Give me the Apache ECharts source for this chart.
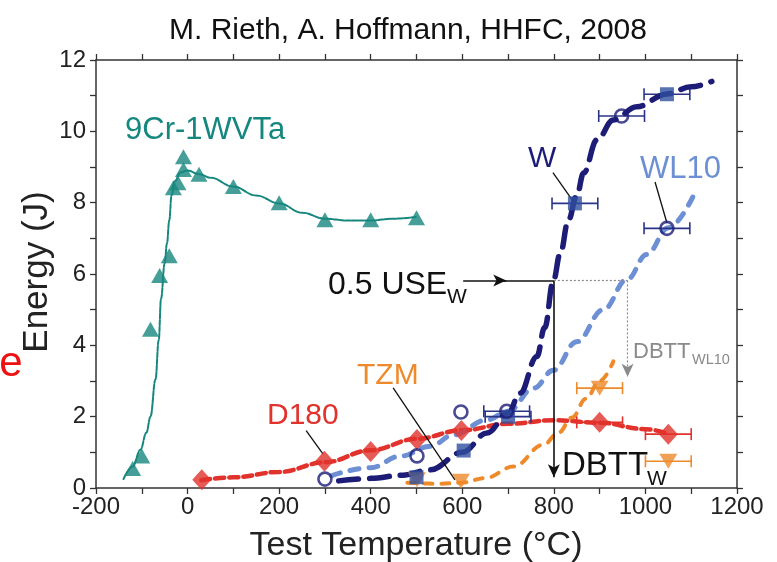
<!DOCTYPE html>
<html>
<head>
<meta charset="utf-8">
<script src="https://cdn.jsdelivr.net/npm/echarts@6/dist/echarts.min.js"></script>
<style>html,body{margin:0;padding:0;background:#fff;}#c{width:777px;height:562px;}</style>
</head>
<body>
<div id="c"></div>
<script>
// ---- data (Temperature °C, Energy J) ----
const xTicks = [-200, 0, 200, 400, 600, 800, 1000, 1200];
const yTicks = [0, 2, 4, 6, 8, 10, 12];

const cr9Points = [[-120,0.55],[-100,0.9],[-81,4.45],[-61,5.96],[-40,6.51],[-31,8.42],[-21,8.56],[-9,8.93],[-9,9.29],[25,8.8],[100,8.45],[200,8.0],[300,7.52],[400,7.52],[500,7.58]];
const cr9Curve = [[-140,0.25],[-120,0.6],[-103,1.07],[-90,1.55],[-81,2.0],[-70,3.05],[-63,4.15],[-58,5.3],[-50,6.3],[-45,6.86],[-40,7.5],[-35,8.2],[-28,8.6],[-15,8.85],[0,8.9],[25,8.8],[50,8.7],[100,8.45],[150,8.2],[200,7.98],[250,7.72],[300,7.55],[350,7.5],[400,7.5],[450,7.55],[500,7.6]];

const d180Points = [[31,0.23],[299,0.75],[400,1.02],[501,1.36],[598,1.61],[900,1.84],[1050,1.51]];
const d180Curve = [[30,0.22],[100,0.3],[200,0.45],[300,0.72],[400,1.06],[500,1.38],[600,1.62],[700,1.8],[800,1.9],[900,1.83],[1000,1.65],[1050,1.52]];
const d180Err = [[900,1.84,50],[1050,1.51,50]];

const wSquares = [[500,0.3],[603,1.05],[700,2.0],[846,7.98],[1047,11.04]];
const wErr = [[700,2.0,50],[846,7.98,50],[1047,11.04,50]];
const wCurve = [[330,0.2],[400,0.27],[470,0.36],[530,0.51],[600,1.0],[654,1.54],[700,2.1],[726,2.66],[763,3.69],[780,4.5],[799,5.82],[814,6.58],[832,7.52],[850,8.2],[865,8.83],[894,9.76],[930,10.32],[981,10.69],[1047,11.05],[1100,11.25],[1145,11.4]];

const openCircles = [[300,0.25],[501,0.9],[597,2.13],[697,2.15],[948,10.43],[1047,7.28]];
const circleErr = [[697,2.15,50],[948,10.43,50],[1047,7.28,50]];
const wl10Curve = [[315,0.35],[400,0.57],[464,0.89],[530,1.17],[581,1.49],[654,1.91],[700,2.15],[756,2.8],[799,3.3],[850,4.1],[908,5.0],[960,5.85],[1003,6.55],[1050,7.3],[1105,8.2]];

const tzmPoints = [[501,0.23],[597,0.19],[900,2.8],[1050,0.75]];
const tzmErr = [[900,2.8,50],[1050,0.75,50]];
const tzmCurve = [[480,0.15],[550,0.12],[600,0.15],[650,0.28],[712,0.6],[777,1.21],[810,1.55],[840,1.98],[870,2.5],[900,3.0],[930,3.55]];

const useW = 5.82;          // 0.5 USE_W level
const dbttW = 800;          // DBTT_W
const dbttWL10 = 961;       // DBTT_WL10

// ---- chart ----
const FONT = '"Liberation Sans", Arial, sans-serif';
const C = {teal:'#16877e', red:'#e1322c', navy:'#1d1d78', blue:'#2f4f9e', light:'#6d8fd3', orange:'#ee8a2a', grey:'#8a8a8a'};
const chart = echarts.init(document.getElementById('c'), null, {renderer:'canvas'});

function errBars(data, color){
  return {
    type:'custom', xAxisIndex:0, yAxisIndex:0, z:3, silent:true,
    renderItem:(params, api)=>{
      const x = api.value(0), y = api.value(1), e = api.value(2);
      const a = api.coord([x-e, y]), b = api.coord([x+e, y]);
      const st = {stroke:color, lineWidth:1.6};
      return {type:'group', children:[
        {type:'line', shape:{x1:a[0],y1:a[1],x2:b[0],y2:b[1]}, style:st},
        {type:'line', shape:{x1:a[0],y1:a[1]-6,x2:a[0],y2:a[1]+6}, style:st},
        {type:'line', shape:{x1:b[0],y1:b[1]-6,x2:b[0],y2:b[1]+6}, style:st}
      ]};
    },
    data: data
  };
}
function curve(data, color, width, dash, z){
  return {type:'line', data:data, smooth:0.4, smoothMonotone:'x', showSymbol:false, symbol:'none', z:z||2,
    lineStyle:{color:color, width:width, type:dash, cap:'round'}, silent:true};
}
function seg(p1, p2, color, width, type, arrow){
  return [
    {coord:p1, symbol:'none'},
    {coord:p2, symbol: arrow ? 'arrow' : 'none', symbolSize: arrow ? [9,13] : 0,
     lineStyle:{color:color, width:width, type:type}}
  ];
}
const axisLine = {show:true, onZero:false, lineStyle:{color:'#333', width:1.5}};
const tick = {show:true, length:6, lineStyle:{color:'#333', width:1.3}};
const lblFont = {fontSize:24, color:'#222', fontFamily:FONT};

const option = {
  animation:false,
  backgroundColor:'#fff',
  grid:{left:96, top:60, width:641, height:428, containLabel:false},
  xAxis:[
    {type:'value', min:-200, max:1200, interval:100, position:'bottom',
     axisLine:axisLine, axisTick:tick, splitLine:{show:false},
     axisLabel:Object.assign({margin:7, formatter:v => xTicks.indexOf(v) >= 0 ? String(v) : ''}, lblFont)},
    {type:'value', min:-200, max:1200, interval:100, position:'top',
     axisLine:axisLine, axisTick:tick, splitLine:{show:false}, axisLabel:{show:false}}
  ],
  yAxis:[
    {type:'value', min:0, max:12, interval:1, position:'left',
     axisLine:axisLine, axisTick:tick, splitLine:{show:false},
     axisLabel:Object.assign({margin:10, formatter:v => yTicks.indexOf(v) >= 0 ? String(v) : ''}, lblFont)},
    {type:'value', min:0, max:12, interval:1, position:'right',
     axisLine:axisLine, axisTick:tick, splitLine:{show:false},
     axisLabel:{show:false}}
  ],
  series:[
    curve(cr9Curve, C.teal, 2, [5,1.5]),
    curve(d180Curve, C.red, 4.5, [9,5]),
    curve(tzmCurve, C.orange, 4, [8,9]),
    curve(wl10Curve, C.light, 5, [9,10]),
    curve(wCurve, C.navy, 5.5, [20,11], 3),
    {type:'line', data:[], silent:true, z:4,
     markLine:{silent:true, animation:false, label:{show:false}, symbol:['none','none'],
       data:[
         seg([602,useW],[696,useW],'#111',1.6,'solid',true),
         seg([690,useW],[dbttW,useW],'#111',1.6,'solid',false),
         seg([dbttW,useW],[dbttW,0.3],'#111',1.6,'solid',true),
         seg([dbttW,useW],[dbttWL10,useW],C.grey,1.2,[2,2],false),
         seg([dbttWL10,useW],[dbttWL10,3.12],C.grey,1.2,[2,2],true),
         seg([259,1.61],[296,0.95],'#111',1.3,'solid',false),
         seg([449,2.81],[584,0.23],'#111',1.3,'solid',false),
         seg([798,8.84],[840,8.08],'#111',1.3,'solid',false),
         seg([1021,8.58],[1047,7.43],'#111',1.3,'solid',false)
       ]}},
    errBars(d180Err, C.red),
    errBars(tzmErr, C.orange),
    errBars(wErr, '#2a3488'),
    errBars(circleErr, '#2a3488'),
    {type:'scatter', data:cr9Points, symbol:'triangle', symbolSize:[17,15], z:5, itemStyle:{color:C.teal}},
    {type:'scatter', data:d180Points, symbol:'diamond', symbolSize:[19,21], z:5, itemStyle:{color:C.red}},
    {type:'scatter', data:tzmPoints, symbol:'triangle', symbolRotate:180, symbolSize:[18,15], z:5, itemStyle:{color:C.orange}},
    {type:'scatter', data:wSquares, symbol:'rect', symbolSize:14, z:5, itemStyle:{color:C.blue}},
    {type:'scatter', data:openCircles, symbol:'circle', symbolSize:13, z:6,
     itemStyle:{color:'rgba(255,255,255,0)', borderColor:C.navy, borderWidth:2.6}}
  ],
  graphic:[
    {type:'text', x:408, y:31, style:{text:'M. Rieth, A. Hoffmann, HHFC, 2008', font:'30px '+FONT, fill:'#111', textAlign:'center', textVerticalAlign:'middle'}},
    {type:'text', x:416, y:546, style:{text:'Test Temperature (°C)', font:'34px '+FONT, fill:'#222', textAlign:'center', textVerticalAlign:'middle'}},
    {type:'text', x:37, y:272, rotation:Math.PI/2, style:{text:'Energy (J)', font:'35px '+FONT, fill:'#222', textAlign:'center', textVerticalAlign:'middle'}},
    {type:'text', x:11, y:364, style:{text:'e', font:'42px '+FONT, fill:'#ee1111', textAlign:'center', textVerticalAlign:'middle'}},
    {type:'text', x:125, y:130, style:{text:'9Cr-1WVTa', font:'31px '+FONT, fill:C.teal, textVerticalAlign:'middle'}},
    {type:'text', x:267, y:416, style:{text:'D180', font:'30px '+FONT, fill:C.red, textVerticalAlign:'middle'}},
    {type:'text', x:357, y:376, style:{text:'TZM', font:'30px '+FONT, fill:C.orange, textVerticalAlign:'middle'}},
    {type:'text', x:528, y:159, style:{text:'W', font:'30px '+FONT, fill:C.navy, textVerticalAlign:'middle'}},
    {type:'text', x:640, y:169, style:{text:'WL10', font:'31px '+FONT, fill:C.light, textVerticalAlign:'middle'}},
    {type:'text', x:328, y:285, style:{text:'0.5 USE', font:'32px '+FONT, fill:'#111', textVerticalAlign:'middle'}},
    {type:'text', x:447, y:297, style:{text:'W', font:'21px '+FONT, fill:'#111', textVerticalAlign:'middle'}},
    {type:'text', x:562, y:466, style:{text:'DBTT', font:'33px '+FONT, fill:'#111', textVerticalAlign:'middle'}},
    {type:'text', x:647, y:479, style:{text:'W', font:'21px '+FONT, fill:'#111', textVerticalAlign:'middle'}},
    {type:'text', x:633, y:352, style:{text:'DBTT', font:'22px '+FONT, fill:C.grey, textVerticalAlign:'middle'}},
    {type:'text', x:692, y:360, style:{text:'WL10', font:'14.5px '+FONT, fill:C.grey, textVerticalAlign:'middle'}}
  ]
};
chart.setOption(option);
</script>
</body>
</html>
